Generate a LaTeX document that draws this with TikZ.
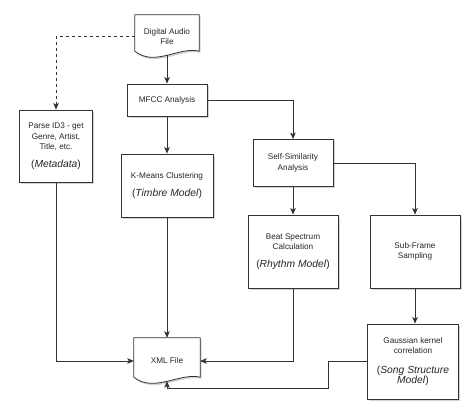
\documentclass[tikz,border=0pt]{standalone}
\usepackage{fontspec}
\setmainfont{Liberation Sans}
\usetikzlibrary{shadows,backgrounds,arrows.meta}

\newcommand{\mirBig}{\fontsize{10.3}{12}\selectfont}
\newcommand{\mirModel}[1]{{\mirBig(\textit{#1})}}
% document shape: box with a wavy lower edge
\newcommand{\mirDocOutline}[1]{%
  \draw[mirDocLine] (#1.north west) -- (#1.north east) -- ([yshift=7pt]#1.south east)
    .. controls ([xshift=-20pt,yshift=12pt]#1.south east) and ([xshift=20pt,yshift=-9pt]#1.south west)
    .. ([yshift=7pt]#1.south west) -- cycle;}

\begin{document}
\begin{tikzpicture}[
    x=1pt,y=-1pt,
    mirBox/.style={rectangle,draw=black!80,fill=white,thick,align=center,inner sep=2pt,text=black!85,
        font=\fontsize{8.2}{10.5}\selectfont,
        drop shadow={shadow xshift=1.5pt,shadow yshift=-1.8pt,opacity=0.35}},
    mirDoc/.style={rectangle,align=center,inner sep=2pt,text=black!85,font=\fontsize{8.2}{10.5}\selectfont},
    mirDocLine/.style={draw=black!80,fill=white,thick,
        drop shadow={shadow xshift=1.5pt,shadow yshift=-1.8pt,opacity=0.35}},
    mirArrow/.style={-{Stealth[length=6.5pt,width=5.5pt,inset=1.5pt]},thick,draw=black!80},
    mirDash/.style={mirArrow,dashed},
]
\useasboundingbox (0,0) rectangle (474,419);

\node[mirDoc,minimum width=64pt,minimum height=43pt] (audio) at (167,36.5) {Digital Audio\\File};
\node[mirBox,minimum width=80pt,minimum height=32pt] (mfcc) at (167,100) {MFCC Analysis};
\node[mirBox,minimum width=73pt,minimum height=72pt] (parse) at (56,146) {Parse ID3 - get\\Genre, Artist,\\Title, etc.\\[7pt]\mirModel{Metadata}};
\node[mirBox,minimum width=92pt,minimum height=63pt] (kmeans) at (167,185.5) {K-Means Clustering\\[8pt]\mirModel{Timbre Model}};
\node[mirBox,minimum width=80pt,minimum height=47pt] (selfsim) at (293,163) {Self-Similarity\\Analysis};
\node[mirBox,minimum width=90pt,minimum height=73pt] (beat) at (293,251.5) {Beat Spectrum\\Calculation\\[7pt]\mirModel{Rhythm Model}};
\node[mirBox,minimum width=90pt,minimum height=73pt] (subframe) at (415,251.5) {Sub-Frame\\Sampling};
\node[mirBox,minimum width=91pt,minimum height=75pt] (gauss) at (413,361.5) {Gaussian kernel\\correlation\\[9pt]{\mirBig(\textit{Song Structure}}\\{\mirBig\textit{Model})}};
\node[mirDoc,minimum width=66pt,minimum height=46pt] (xml) at (167,361) {XML File};

\begin{scope}[on background layer]
\mirDocOutline{audio}
\mirDocOutline{xml}
\end{scope}

\draw[mirArrow] ([yshift=3pt]audio.south) -- (mfcc.north);
\draw[mirDash] (audio.west) -| (parse.north);
\draw[mirArrow] (mfcc.south) -- (kmeans.north);
\draw[mirArrow] (mfcc.east) -| (selfsim.north);
\draw[mirArrow] (selfsim.south) -- (beat.north);
\draw[mirArrow] (selfsim.east) -| (subframe.north);
\draw[mirArrow] (subframe.south) -- (subframe.south |- gauss.north);
\draw[mirArrow] (parse.south) |- (xml.west);
\draw[mirArrow] (kmeans.south) -- (xml.north);
\draw[mirArrow] (beat.south) |- (xml.east);
\draw[mirArrow] (gauss.west) -- ++(-39,0) |- ([yshift=-4pt]xml.south) -- ([yshift=3pt]xml.south);
\end{tikzpicture}
\end{document}
